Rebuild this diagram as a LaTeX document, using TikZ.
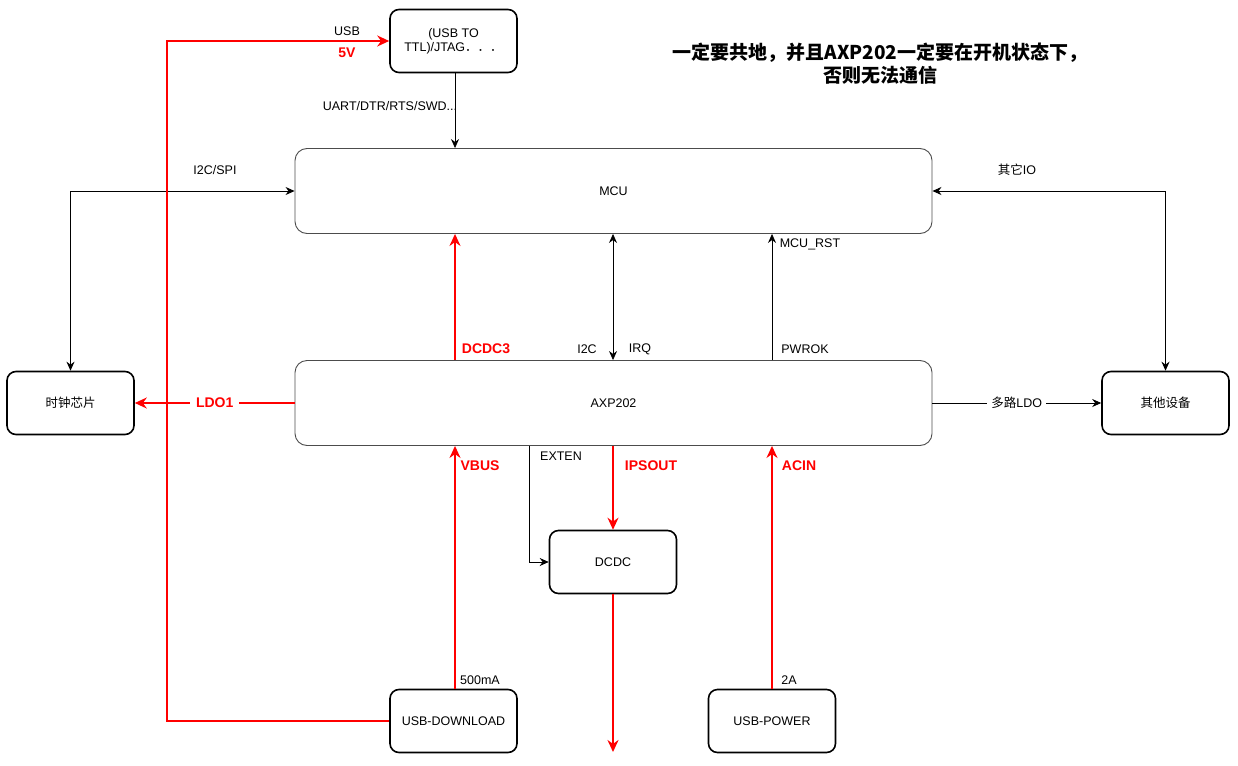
\documentclass[tikz,border=0pt]{standalone}
\usepackage{fontspec}
\setmainfont{Liberation Sans}
\newfontfamily\cjk{Noto Sans CJK SC}
\usetikzlibrary{arrows.meta}
\tikzset{
	blk/.style={draw, line width=1.6pt, rounded corners=9pt, minimum width=127pt, minimum height=63pt, align=center, font=\fontsize{12.5}{14}\selectfont},
	chip/.style={draw=black!70, line width=0.9pt, rounded corners=12pt, minimum width=637pt, minimum height=85pt, font=\fontsize{12.5}{14}\selectfont},
	sig/.style={line width=0.8pt, -{Stealth[length=9pt,width=8pt]}},
	sigs/.style={line width=0.8pt, {Stealth[length=9pt,width=8pt]}-{Stealth[length=9pt,width=8pt]}},
	pwr/.style={draw=red, line width=1.8pt, -{Stealth[length=12pt,width=11pt]}},
	lbl/.style={inner sep=1pt, font=\fontsize{12.5}{14}\selectfont},
	plbl/.style={inner sep=1pt, text=red, font=\bfseries\fontsize{14}{16}\selectfont}
}
\begin{document}
\begin{tikzpicture}[x=1pt, y=-1pt]
	\useasboundingbox (0,0) rectangle (1238,765);
	% blocks
	\node[blk] (ttl) at (453.5,41) {(USB TO\\TTL)/JTAG{\cjk ．．．}};
	\node[chip] (mcu) at (613.5,191) {MCU};
	\node[chip] (axp) at (613.5,403) {AXP202};
	\node[blk] (clk) at (70.5,403) {\cjk 时钟芯片};
	\node[blk] (oth) at (1165.5,403) {\cjk 其他设备};
	\node[blk] (dcdc) at (613,562) {DCDC};
	\node[blk] (dl) at (453.5,721) {USB-DOWNLOAD};
	\node[blk] (pw) at (772,721) {USB-POWER};
	% power rail positions
	\coordinate (vb) at ([xshift=1.5pt]dl.north);
	\coordinate (usbx) at (167,721);
	\coordinate (out) at (613,752);
	% signals
	\draw[sig] (ttl.south -| vb) -- (vb |- mcu.north);
	\draw[sigs] (clk.north) |- (mcu.west);
	\draw[sigs] (oth.north) |- (mcu.east);
	\draw[sigs] (axp.north -| dcdc.north) -- (mcu.south -| dcdc.north);
	\draw[sig] (pw.north |- axp.north) -- (pw.north |- mcu.south);
	\draw[sig] ([xshift=-84pt]axp.south) |- (dcdc.west);
	\draw[sig] (axp.east) -- node[lbl, fill=white, inner xsep=4pt] (ldos) {{\cjk 多路}LDO} (oth.west);
	% power
	\draw[pwr] (vb |- axp.north) -- (vb |- mcu.south);
	\draw[pwr] (vb) -- (vb |- axp.south);
	\draw[pwr] (pw.north) -- (pw.north |- axp.south);
	\draw[pwr] (dcdc.north |- axp.south) -- (dcdc.north);
	\draw[pwr] (dcdc.south) -- (out);
	\draw[pwr] (dl.west) -- (usbx) |- (ttl.west);
	\draw[pwr] (axp.west) -- node[plbl, fill=white, inner xsep=6pt] (ldo) {LDO1} (clk.east);
	% labels
	\node[lbl] (usb) at (347,31) {USB};
	\node[plbl] (v5) at (347,53) {5V};
	\node[lbl] (uart) at (390,106) {UART/DTR/RTS/SWD...};
	\node[lbl] (spi) at (215,170) {I2C/SPI};
	\node[lbl] (io) at (1017,170) {{\cjk 其它}IO};
	\node[plbl] (dc3) at (486,349) {DCDC3};
	\node[lbl] (i2c) at (587,349) {I2C};
	\node[lbl] (irq) at (640,349) {IRQ};
	\node[lbl] (rst) at (810,244) {MCU\_RST};
	\node[lbl] (pok) at (805,349) {PWROK};
	\node[plbl] (vbus) at (480,466) {VBUS};
	\node[lbl] (exten) at (561,456) {EXTEN};
	\node[plbl] (ips) at (651,466) {IPSOUT};
	\node[plbl] (acin) at (799,466) {ACIN};
	\node[lbl] (ma) at (480,680) {500mA};
	\node[lbl] (a2) at (789,680) {2A};
	% note
	\node[align=center, font=\cjk\bfseries\fontsize{19}{23}\selectfont] (note) at (880,64) {一定要共地，并且AXP202一定要在开机状态下，\\否则无法通信};
\end{tikzpicture}
\end{document}
